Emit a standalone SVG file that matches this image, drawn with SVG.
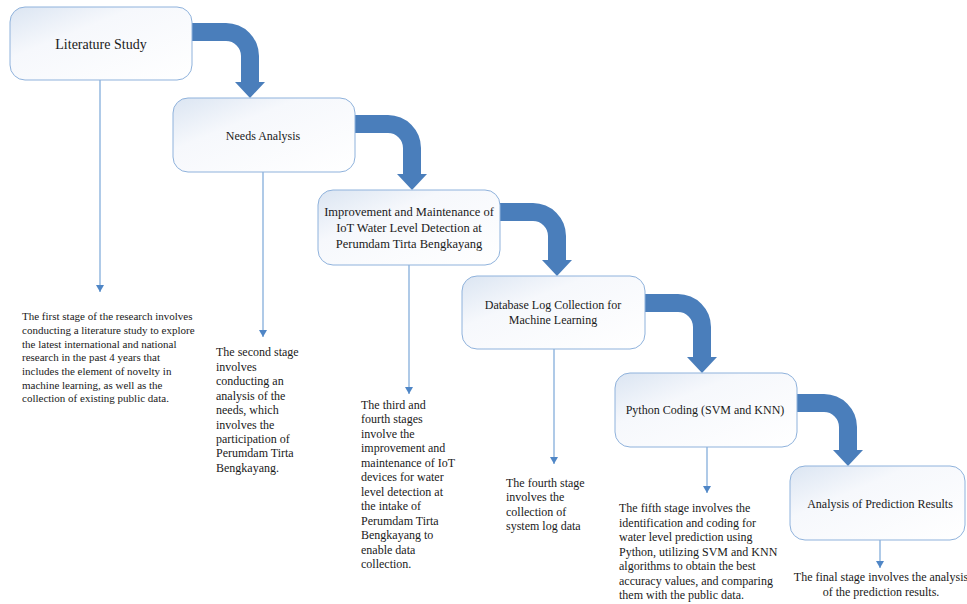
<svg xmlns="http://www.w3.org/2000/svg" width="967" height="604" viewBox="0 0 967 604">
  <defs>
    <linearGradient id="boxfill" x1="0" y1="0" x2="1" y2="1">
      <stop offset="0" stop-color="#dbe5f2"/>
      <stop offset="0.35" stop-color="#f6f8fc"/>
      <stop offset="1" stop-color="#ffffff"/>
    </linearGradient>
    <marker id="ah" markerWidth="8" markerHeight="8" refX="7" refY="4" orient="auto" markerUnits="userSpaceOnUse">
      <path d="M0,0 L7,4 L0,8 Z" fill="#4f86c6"/>
    </marker>
  </defs>
  <style>
    .box { fill: url(#boxfill); stroke: #8fb2dc; stroke-width: 1; }
    .big { fill: #4a7ebb; }
    .thin { stroke: #7aa7d8; stroke-width: 1.2; fill: none; }
    text { font-family: "Liberation Serif", "Times New Roman", serif; fill: #1a1a1a; }
    .title { font-size: 12px; text-anchor: middle; }
    .desc { font-size: 12px; }
    .desc1 { font-size: 11px; }
  </style>
  <rect width="967" height="604" fill="#ffffff"/>

  <g id="connectors">
    <path class="big" d="M182,23 H226 A33 33 0 0 1 259,56 V82 H265 L250,98 L235,82 H241 V56 A15 15 0 0 0 226,41 H182 Z"/>
    <path class="big" d="M345,115 H388 A33 33 0 0 1 421,148 V174 H427 L412,190 L397,174 H403 V148 A15 15 0 0 0 388,133 H345 Z"/>
    <path class="big" d="M490,203 H533 A33 33 0 0 1 566,236 V260 H572 L557,276 L542,260 H548 V236 A15 15 0 0 0 533,221 H490 Z"/>
    <path class="big" d="M635,294 H678 A33 33 0 0 1 711,327 V357 H717 L702,373 L687,357 H693 V327 A15 15 0 0 0 678,312 H635 Z"/>
    <path class="big" d="M787,394 H824 A33 33 0 0 1 857,427 V450 H863 L848,466 L833,450 H839 V427 A15 15 0 0 0 824,412 H787 Z"/>
    <line class="thin" x1="100" y1="80" x2="100" y2="292" marker-end="url(#ah)"/>
    <line class="thin" x1="263" y1="172" x2="263" y2="337" marker-end="url(#ah)"/>
    <line class="thin" x1="409" y1="265" x2="409" y2="394" marker-end="url(#ah)"/>
    <line class="thin" x1="554" y1="349" x2="554" y2="464" marker-end="url(#ah)"/>
    <line class="thin" x1="707" y1="447" x2="707" y2="493" marker-end="url(#ah)"/>
    <line class="thin" x1="880" y1="540" x2="880" y2="568" marker-end="url(#ah)"/>
  </g>

  <g id="node1">
    <rect class="box" x="10" y="7" width="182" height="73" rx="15"/>
    <text class="title" x="101" y="49" style="font-size:14px">Literature Study</text>
  </g>
  <g id="node2">
    <rect class="box" x="173" y="98" width="182" height="74" rx="15"/>
    <text class="title" x="263" y="140">Needs Analysis</text>
  </g>
  <g id="node3">
    <rect class="box" x="318" y="190" width="182" height="75" rx="15"/>
    <text class="title" x="409" y="216" style="font-size:12.5px">Improvement and Maintenance of</text>
    <text class="title" x="409" y="232" style="font-size:12.5px">IoT Water Level Detection at</text>
    <text class="title" x="409" y="248" style="font-size:12.5px">Perumdam Tirta Bengkayang</text>
  </g>
  <g id="node4">
    <rect class="box" x="462" y="276" width="183" height="73" rx="15"/>
    <text class="title" x="553" y="309">Database Log Collection for</text>
    <text class="title" x="553" y="324">Machine Learning</text>
  </g>
  <g id="node5">
    <rect class="box" x="615" y="373" width="182" height="74" rx="15"/>
    <text class="title" x="705" y="414">Python Coding (SVM and KNN)</text>
  </g>
  <g id="node6">
    <rect class="box" x="790" y="466" width="175" height="74" rx="15"/>
    <text class="title" x="880" y="508">Analysis of Prediction Results</text>
  </g>

  <g id="desc1">
    <text class="desc1" x="22" y="320">The first stage of the research involves</text>
    <text class="desc1" x="22" y="334">conducting a literature study to explore</text>
    <text class="desc1" x="22" y="348">the latest international and national</text>
    <text class="desc1" x="22" y="361">research in the past 4 years that</text>
    <text class="desc1" x="22" y="375">includes the element of novelty in</text>
    <text class="desc1" x="22" y="389">machine learning, as well as the</text>
    <text class="desc1" x="22" y="402">collection of existing public data.</text>
  </g>
  <g id="desc2">
    <text class="desc" x="216" y="356">The second stage</text>
    <text class="desc" x="216" y="371">involves</text>
    <text class="desc" x="216" y="385">conducting an</text>
    <text class="desc" x="216" y="400">analysis of the</text>
    <text class="desc" x="216" y="414">needs, which</text>
    <text class="desc" x="216" y="429">involves the</text>
    <text class="desc" x="216" y="443">participation of</text>
    <text class="desc" x="216" y="457">Perumdam Tirta</text>
    <text class="desc" x="216" y="472">Bengkayang.</text>
  </g>
  <g id="desc3">
    <text class="desc" x="361" y="409">The third and</text>
    <text class="desc" x="361" y="423">fourth stages</text>
    <text class="desc" x="361" y="438">involve the</text>
    <text class="desc" x="361" y="452">improvement and</text>
    <text class="desc" x="361" y="467">maintenance of IoT</text>
    <text class="desc" x="361" y="481">devices for water</text>
    <text class="desc" x="361" y="496">level detection at</text>
    <text class="desc" x="361" y="510">the intake of</text>
    <text class="desc" x="361" y="525">Perumdam Tirta</text>
    <text class="desc" x="361" y="539">Bengkayang to</text>
    <text class="desc" x="361" y="554">enable data</text>
    <text class="desc" x="361" y="568">collection.</text>
  </g>
  <g id="desc4">
    <text class="desc" x="506" y="487">The fourth stage</text>
    <text class="desc" x="506" y="501">involves the</text>
    <text class="desc" x="506" y="516">collection of</text>
    <text class="desc" x="506" y="530">system log data</text>
  </g>
  <g id="desc5">
    <text class="desc" x="619" y="512">The fifth stage involves the</text>
    <text class="desc" x="619" y="527">identification and coding for</text>
    <text class="desc" x="619" y="541">water level prediction using</text>
    <text class="desc" x="619" y="556">Python, utilizing SVM and KNN</text>
    <text class="desc" x="619" y="570">algorithms to obtain the best</text>
    <text class="desc" x="619" y="585">accuracy values, and comparing</text>
    <text class="desc" x="619" y="599">them with the public data.</text>
  </g>
  <g id="desc6">
    <text class="title" x="881" y="581">The final stage involves the analysis</text>
    <text class="title" x="881" y="596">of the prediction results.</text>
  </g>
</svg>
